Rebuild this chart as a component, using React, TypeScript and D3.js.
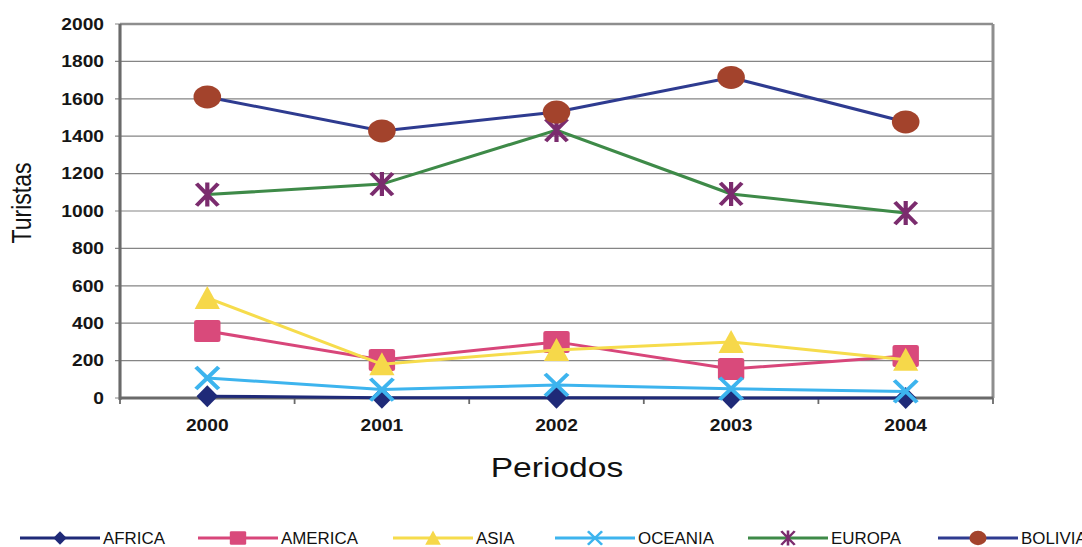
import * as d3 from "d3";

// data
const years = ["2000", "2001", "2002", "2003", "2004"];
const seriesNames = ["AFRICA", "AMERICA", "ASIA", "OCEANIA", "EUROPA", "BOLIVIA"];
const africa = [10, 2, 2, 0, 0];
const america = [358, 203, 300, 155, 225];
const asia = [535, 180, 257, 300, 205];
const oceania = [107, 45, 70, 50, 35];
const europa = [1088, 1144, 1433, 1091, 989];
const bolivia = [1610, 1428, 1529, 1714, 1476];
const yTicks = [0, 200, 400, 600, 800, 1000, 1200, 1400, 1600, 1800, 2000];

// the picture is stretched horizontally, so draw in a narrower box and stretch it
const SX = 1.2;
const W = 1082;
const H = 547;
const VW = W / SX;

const series = [
  { name: seriesNames[0], values: africa, line: "#1f2a78", fill: "#1f2a78", shape: "diamond" },
  { name: seriesNames[1], values: america, line: "#d8467a", fill: "#d94a7b", shape: "square" },
  { name: seriesNames[2], values: asia, line: "#f6dc4c", fill: "#f6d84a", shape: "triangle" },
  { name: seriesNames[3], values: oceania, line: "#3db4ee", fill: "#3db4ee", shape: "x" },
  { name: seriesNames[4], values: europa, line: "#3e8a48", fill: "#7b2c6e", shape: "asterisk" },
  { name: seriesNames[5], values: bolivia, line: "#2e3b90", fill: "#a3432c", shape: "circle" },
];

// legend entry starts (screen px)
const legendX = [20, 198, 393, 555, 748, 938];

function Marker({ shape, cx, cy, color, k = 1 }: { shape: string; cx: number; cy: number; color: string; k?: number }) {
  const t = `translate(${cx},${cy}) scale(${k})`;
  if (shape === "circle") return <circle transform={t} r={11.5} fill={color} />;
  if (shape === "square") return <rect transform={t} x={-11} y={-11} width={22} height={22} rx={2} fill={color} />;
  if (shape === "diamond") return <path transform={t} d="M0,-11L9,0L0,11L-9,0Z" fill={color} />;
  if (shape === "triangle") return <path transform={t} d="M0,-12L10.5,11L-10.5,11Z" fill={color} />;
  if (shape === "x")
    return <path transform={t} d="M-9.5,-11L9.5,11M-9.5,11L9.5,-11" stroke={color} strokeWidth={3.5} fill="none" />;
  return (
    <path transform={t} d="M-9,-11L9,11M-9,11L9,-11M0,-12L0,12" stroke={color} strokeWidth={3.5} fill="none" />
  );
}

export default function App() {
  const x = d3.scaleBand().domain(years).range([120 / SX, 993 / SX]);
  const y = d3.scaleLinear().domain([0, 2000]).range([398, 24]);
  const cx = (i: number) => x(years[i])! + x.bandwidth() / 2;
  const line = d3
    .line<number>()
    .x((_, i) => cx(i))
    .y((d) => y(d));

  const [x0, x1] = x.range();
  const font = "'Liberation Sans', Arial, sans-serif";

  return (
    <svg
      width={W}
      height={H}
      viewBox={`0 0 ${VW} ${H}`}
      preserveAspectRatio="none"
      style={{ position: "absolute", left: 0, top: 0, background: "#fff" }}
      fontFamily={font}
    >
      {/* grid */}
      {yTicks.map((t) => (
        <line key={t} x1={115 / SX} x2={x1} y1={y(t)} y2={y(t)} stroke="#858585" strokeWidth={1.2} />
      ))}
      {/* frame */}
      <line x1={x0} x2={x1} y1={y(2000)} y2={y(2000)} stroke="#8e8e8e" strokeWidth={2.5} />
      <line x1={x1} x2={x1} y1={y(2000)} y2={y(0)} stroke="#8e8e8e" strokeWidth={2.5} />
      <line x1={x0} x2={x0} y1={y(2000)} y2={y(0) + 2} stroke="#6a6a6a" strokeWidth={2.6} />
      <line x1={x0} x2={x1} y1={y(0)} y2={y(0)} stroke="#6a6a6a" strokeWidth={3} />
      {years.map((yr) => (
        <line key={yr} x1={x(yr)!} x2={x(yr)!} y1={y(0)} y2={y(0) + 6} stroke="#6a6a6a" strokeWidth={1.5} />
      ))}
      <line x1={x1} x2={x1} y1={y(0)} y2={y(0) + 6} stroke="#6a6a6a" strokeWidth={1.5} />

      {/* y tick labels */}
      {yTicks.map((t) => (
        <text key={t} x={104 / SX} y={y(t)} dy="0.36em" textAnchor="end" fontSize={16} fontWeight="bold" fill="#161616">
          {t}
        </text>
      ))}
      {/* x tick labels */}
      {years.map((yr, i) => (
        <text key={yr} x={cx(i)} y={431} textAnchor="middle" fontSize={16} fontWeight="bold" fill="#161616">
          {yr}
        </text>
      ))}

      <text x={557 / SX} y={477} textAnchor="middle" fontSize={28} fill="#111">
        Periodos
      </text>
      <text transform={`translate(${31 / SX},${203}) rotate(-90)`} textAnchor="middle" fontSize={23} fill="#111">
        Turistas
      </text>

      {/* series */}
      {series.map((s) => (
        <g key={s.name}>
          <path d={line(s.values)!} fill="none" stroke={s.line} strokeWidth={3} />
          {s.values.map((v, i) => (
            <Marker key={i} shape={s.shape} cx={cx(i)} cy={y(v)} color={s.fill} />
          ))}
        </g>
      ))}

      {/* legend */}
      {series.map((s, i) => {
        const lx = legendX[i] / SX;
        return (
          <g key={s.name}>
            <line x1={lx} x2={lx + 80 / SX} y1={538} y2={538} stroke={s.line} strokeWidth={3} />
            <Marker shape={s.shape} cx={lx + 40 / SX} cy={538} color={s.fill} k={0.62} />
            <text
              transform={`translate(${lx + 83 / SX},543.5) scale(0.88,1)`}
              fontSize={16}
              fill="#111"
            >
              {s.name}
            </text>
          </g>
        );
      })}
    </svg>
  );
}
